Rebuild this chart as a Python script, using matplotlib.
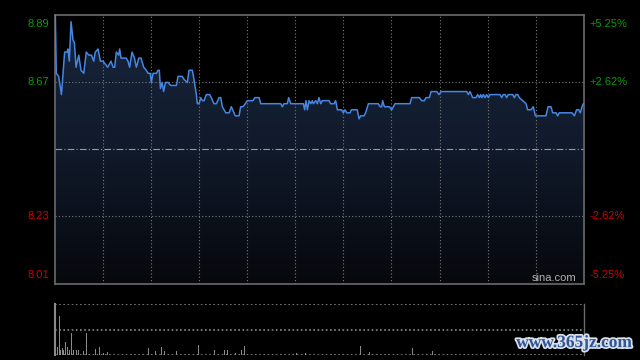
import numpy as np
import matplotlib.pyplot as plt
import matplotlib.patheffects as pe
from matplotlib.colors import LinearSegmentedColormap

plt.rcParams['font.family'] = ['Liberation Sans', 'DejaVu Sans']

# intraday trace: minutes since 9:30 (lunch break removed) and price
price_min = [0.5, 1.1, 2.6, 4.3, 6.3, 7.8, 8.4, 9.2, 10.3, 11.5, 12.4, 13.4, 15.1, 16.5,
             18.2, 19.8, 21.3, 23.0, 24.4, 25.4, 27.1, 28.6, 30.2, 31.7, 33.1, 35.2, 36.5,
             37.5, 38.5, 40.0, 40.6, 41.4, 42.7, 44.6, 45.8, 46.8, 48.3, 49.8, 51.0, 52.5,
             53.9, 55.6, 57.2, 58.3, 59.7, 60.3, 61.4, 63.5, 64.5, 65.3, 66.0, 67.0, 68.0,
             69.1, 70.7, 72.4, 75.9, 77.0, 79.5, 80.7, 82.8, 83.8, 85.9, 86.9, 88.4, 89.0,
             90.1, 91.1, 92.1, 93.2, 94.6, 96.7, 97.7, 99.4, 100.9, 102.5, 103.6, 104.6,
             106.7, 108.8, 110.2, 112.7, 115.0, 116.0, 117.5, 118.9, 120.2, 123.7, 124.8,
             127.5, 128.5, 141.0, 142.0, 143.0, 145.1, 145.9, 147.2, 155.1, 155.9, 156.7,
             157.6, 158.6, 159.7, 160.7, 161.3, 162.8, 163.8, 164.8, 165.9, 166.9, 171.1,
             172.1, 174.2, 175.2, 176.3, 178.8, 180.0, 181.1, 182.1, 184.2, 185.0, 188.7,
             189.8, 190.8, 192.9, 193.9, 195.6, 201.8, 202.9, 203.9, 204.5, 205.6, 208.7,
             210.1, 211.2, 212.2, 221.6, 222.6, 227.4, 228.8, 230.5, 231.5, 233.6, 234.7,
             238.2, 239.6, 240.9, 256.9, 257.9, 259.0, 260.6, 262.7, 263.7, 264.8, 265.6,
             266.4, 267.3, 268.3, 269.3, 270.4, 271.4, 277.7, 278.7, 279.7, 280.8, 281.8,
             282.8, 285.6, 286.6, 287.6, 288.7, 289.7, 291.8, 293.9, 294.9, 297.0, 298.4,
             299.7, 306.3, 307.6, 309.4, 310.5, 312.6, 313.6, 314.6, 322.5, 324.0, 325.4,
             326.7, 327.7, 328.8, 329.6]
price_val = [8.89, 8.70, 8.69, 8.63, 8.77, 8.77, 8.78, 8.74, 8.87, 8.81, 8.80, 8.72, 8.76, 8.71,
             8.70, 8.77, 8.76, 8.76, 8.74, 8.77, 8.78, 8.74, 8.74, 8.73, 8.72, 8.74, 8.72,
             8.72, 8.77, 8.76, 8.78, 8.75, 8.75, 8.75, 8.74, 8.72, 8.77, 8.75, 8.72, 8.75,
             8.75, 8.72, 8.71, 8.70, 8.70, 8.67, 8.70, 8.70, 8.71, 8.71, 8.65, 8.67, 8.64,
             8.67, 8.67, 8.66, 8.66, 8.69, 8.69, 8.68, 8.67, 8.71, 8.71, 8.68, 8.63, 8.60,
             8.60, 8.62, 8.61, 8.61, 8.63, 8.63, 8.62, 8.60, 8.60, 8.62, 8.62, 8.59,
             8.57, 8.57, 8.59, 8.56, 8.56, 8.59, 8.59, 8.60, 8.61, 8.61, 8.62,
             8.62, 8.60, 8.60, 8.59, 8.60, 8.60, 8.62, 8.60, 8.60, 8.58, 8.61,
             8.58, 8.61, 8.60, 8.61, 8.60, 8.61, 8.60, 8.62, 8.60, 8.61, 8.61,
             8.60, 8.60, 8.61, 8.58, 8.58, 8.57, 8.58, 8.57, 8.57, 8.58, 8.58,
             8.55, 8.56, 8.56, 8.57, 8.60, 8.60, 8.59, 8.59, 8.61, 8.59, 8.59,
             8.58, 8.59, 8.60, 8.60, 8.62, 8.62, 8.61, 8.61, 8.62, 8.62, 8.64,
             8.64, 8.63, 8.64, 8.64, 8.63, 8.64, 8.62, 8.62, 8.63, 8.62, 8.63,
             8.62, 8.63, 8.62, 8.63, 8.62, 8.63, 8.63, 8.62, 8.63, 8.63, 8.62,
             8.63, 8.63, 8.62, 8.63, 8.63, 8.62, 8.61, 8.60, 8.58, 8.58, 8.59,
             8.56, 8.56, 8.59, 8.59, 8.57, 8.57, 8.56, 8.57, 8.57, 8.56, 8.58,
             8.58, 8.57, 8.59, 8.60]

# volume bars (relative units)
vol_min = [0, 1.6, 3, 4, 5, 5.7, 6.7, 7.8, 8.4, 9.2, 10.5, 12, 13.4, 15, 17.8, 19.8, 25.4,
           28, 30.6, 33.3, 58.6, 62.9, 66.6, 68.7, 76.3, 89.9, 99.7, 105.9, 107.6, 113,
           116.4, 118.4, 151, 156.3, 190.6, 196.2, 223.1, 235.5]
vol_val = [100, 16, 78, 10, 14, 10, 26, 16, 57, 10, 44, 10, 10, 10, 8, 44, 12,
           16, 3, 5, 14, 7, 16, 7, 7, 20, 10, 10, 10, 3,
           9, 18, 3, 3, 18, 6, 14, 8]

prev_close = 8.45
span = 0.4436
left_ticks = [8.89, 8.67, 8.23, 8.01]
right_labels = ['+5.25%', '+2.62%', '-2.62%', '-5.25%']
tick_colors = ['#0a9a0a', '#0a9a0a', '#d00000', '#d00000']

bg = 'black'
grid_c = '#7a7a7a'
frame_c = '#6a6a6a'

fig = plt.figure(figsize=(6.4, 3.6), dpi=100, facecolor=bg)
ax = fig.add_axes([0.0852, 0.2111, 0.8273, 0.7486], facecolor=bg)
axv = fig.add_axes([0.0852, 0.0139, 0.8273, 0.1403], facecolor=bg)

top, bot = prev_close + span, prev_close - span

# gradient fill below the price line
cmap = LinearSegmentedColormap.from_list('fill', ['#18253d', '#111a2b', '#06080c'])
grad = np.linspace(0, 1, 256).reshape(-1, 1)
img = ax.imshow(grad, cmap=cmap, aspect='auto', extent=[0, 330, bot, top],
                origin='upper', zorder=1)
poly = ax.fill_between(price_min, price_val, bot, color='none', zorder=1)
img.set_clip_path(poly.get_paths()[0], transform=ax.transData)
ax.set_xlim(0, 330)
ax.set_ylim(bot, top)

ax.plot(price_min, price_val, color='#4686e0', lw=1.1, zorder=3)

# grid
for m in range(30, 330, 30):
    ax.axvline(m, color=grid_c, lw=0.8, ls=(0, (1, 2)), zorder=2)
for v in [8.67, 8.23]:
    ax.axhline(v, color=grid_c, lw=0.8, ls=(0, (1, 2)), zorder=2)
ax.axhline(prev_close, color='#9a9a9a', lw=0.8, ls=(0, (6, 2, 1, 2)), zorder=2)

ax.set_xticks([])
ax.set_yticks([])
for s in ax.spines.values():
    s.set_color(frame_c)
    s.set_linewidth(1.2)

for v, rl, c in zip(left_ticks, right_labels, tick_colors):
    yv = min(max(v, bot + 0.03), top - 0.03)
    ax.text(-3.5, yv, f'{v:.2f}', color=c, ha='right', va='center', fontsize=8,
            transform=ax.transData, clip_on=False)
    ax.text(333.5, yv, rl, color=c, ha='left', va='center', fontsize=8,
            transform=ax.transData, clip_on=False)

ax.text(0.985, 0.005, 'sina.com', color='#b0b0b0', ha='right', va='bottom', fontsize=8,
        transform=ax.transAxes)

# volume panel
axv.set_xlim(0, 330)
axv.set_ylim(0, 100)
axv.bar(vol_min, vol_val, width=0.6, color='#8a8a8a', zorder=3)
for v in [100, 50, 0.5]:
    axv.axhline(v, color='#8a8a8a', lw=1.2, ls=(0, (1, 1.5)), zorder=2)
axv.set_xticks([])
axv.set_yticks([])
for k in ['top', 'bottom']:
    axv.spines[k].set_visible(False)
axv.spines['left'].set_color('#8a8a8a')
axv.spines['left'].set_linewidth(1.5)
axv.spines['right'].set_color(frame_c)
axv.spines['right'].set_linewidth(1.0)

fig.text(0.988, 0.047, 'www.365jz.com', color='#2f5597', ha='right', va='center',
         fontsize=12.5, fontweight='bold', family=['Liberation Serif'],
         path_effects=[pe.withStroke(linewidth=2.5, foreground='#d8e0ec')])

fig.savefig('out.png', dpi=100, facecolor=bg)
